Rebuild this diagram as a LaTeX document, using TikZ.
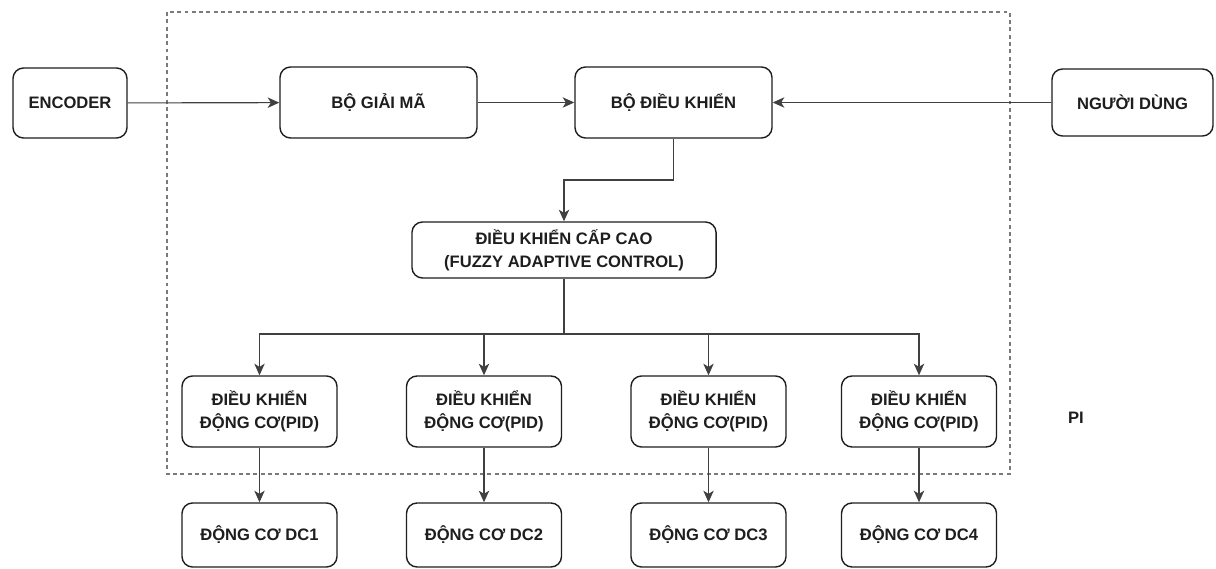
\documentclass[tikz,border=0pt]{standalone}
\usepackage{fontspec}
\setmainfont{Liberation Sans}
\usepackage{xcolor}
\usepackage{tikz}
\usetikzlibrary{arrows.meta, positioning, calc}
\definecolor{ink}{HTML}{1E1E1E}
\definecolor{frame}{HTML}{7A7A7A}

\begin{document}
\begin{tikzpicture}[
      x=0.025cm, y=-0.025cm,
      font=\fontsize{11.8}{16.2}\selectfont\bfseries,
      block/.style={draw=ink, text=ink, line width=1pt, rounded corners=7.5pt,
                    fill=white, align=center, inner sep=2pt},
      wide/.style={block, minimum width=4.925cm, minimum height=1.775cm},
      pid/.style={block, minimum width=3.875cm, minimum height=1.775cm},
      motor/.style={block, minimum width=3.875cm, minimum height=1.6cm},
      link/.style={draw=ink!85, line width=0.8pt,
                   -{Stealth[length=2.9mm, width=2.6mm, inset=0.8mm]}},
      wire/.style={draw=ink!85, line width=0.8pt},
      board/.style={draw=frame, line width=0.8pt, dash pattern=on 2.8pt off 2.4pt},
    ]
    \useasboundingbox (0,0) rectangle (1216,569);

    % --- dashed frame round the controller ---
    \draw[board] (167,12) rectangle (1010,474);

    % --- top row ---
    \node[block, minimum width=2.85cm, minimum height=1.75cm] (enc) at (70,103) {ENCODER};
    \node[wide] (decode) at (378.5,102.5) {BỘ GIẢI MÃ};
    \node[wide] (ctrl)   at (673.5,102.5) {BỘ ĐIỀU KHIỂN};
    \node[block, minimum width=4.025cm, minimum height=1.675cm] (user) at (1132.5,102.5) {NGƯỜI DÙNG};

    % --- upper level controller ---
    \node[block, minimum width=7.6cm, minimum height=1.4cm] (fuzzy) at (564,250)
      {ĐIỀU KHIỂN CẤP CAO\\(FUZZY ADAPTIVE CONTROL)};

    % --- motor controllers and motors ---
    \foreach \i/\x in {1/259.5, 2/484, 3/708.5, 4/919} {
      \node[pid]   (pid\i) at (\x,411.5) {ĐIỀU KHIỂN\\ĐỘNG CƠ(PID)};
      \node[motor] (dc\i)  at (\x,535)   {ĐỘNG CƠ DC\i};
    }
    \node[text=ink] (pi) at (1076,418) {PI};

    % --- top row links ---
    \draw[link] (enc) -- (decode);
    \draw[link] (decode) -- (ctrl);
    \draw[link] (user) -- (ctrl);

    % --- controller down to fuzzy block ---
    \coordinate (bend) at ($(ctrl.south)!.5!(fuzzy.north)$);
    \draw[link] (ctrl.south) |- (bend) -| (fuzzy.north);

    % --- fan out to the four motor controllers ---
    \coordinate (split) at (564,334);
    \draw[wire] (fuzzy.south) -- (split);
    \foreach \i in {1,...,4} {
      \draw[link] (split) -| (pid\i.north);
      \draw[link] (pid\i) -- (dc\i);
    }
  \end{tikzpicture}
\end{document}
